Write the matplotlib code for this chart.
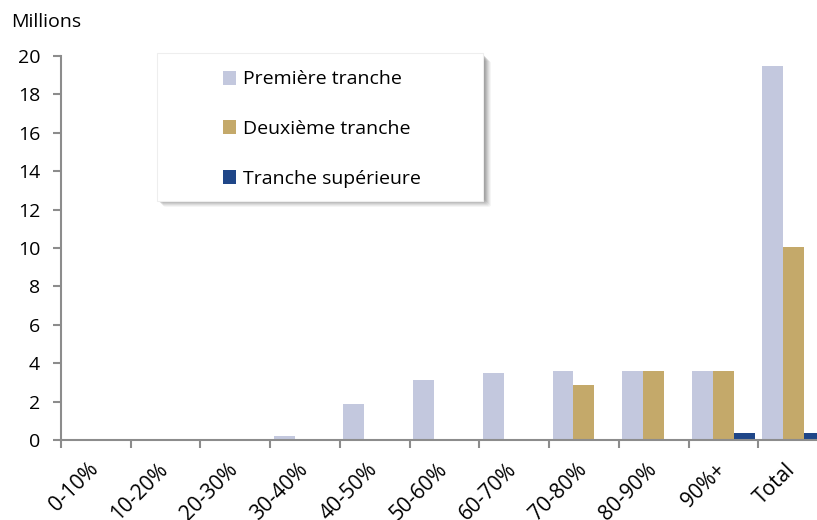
import numpy as np
import matplotlib.pyplot as plt
import matplotlib.transforms as mtransforms
from matplotlib.patches import Patch, FancyBboxPatch

plt.rcParams['font.family'] = ['Open Sans', 'DejaVu Sans']

categories = ["0-10%", "10-20%", "20-30%", "30-40%", "40-50%", "50-60%",
              "60-70%", "70-80%", "80-90%", "90%+", "Total"]
premiere = [0.0, 0.0, 0.0, 0.2, 1.85, 3.15, 3.5, 3.58, 3.6, 3.6, 19.5]
deuxieme = [0.0, 0.0, 0.0, 0.0, 0.0, 0.0, 0.0, 2.85, 3.6, 3.6, 10.05]
superieure = [0.0, 0.0, 0.0, 0.0, 0.0, 0.0, 0.0, 0.0, 0.0, 0.36, 0.36]

series_names = ["Première tranche", "Deuxième tranche", "Tranche supérieure"]
colors = ["#C3C8DE", "#C4A96A", "#1F4688"]

FS = 14
W, H = 817, 520
fig = plt.figure(figsize=(W / 100, H / 100), dpi=100)
# axis runs past the right edge, as in the original crop
ax = fig.add_axes([61 / W, 80 / H, 767 / W, 384 / H])

x = np.arange(len(categories))
bw = 0.3
for i, (vals, col) in enumerate(zip([premiere, deuxieme, superieure], colors)):
    ax.bar(x + (i - 1) * bw, vals, width=bw, color=col, edgecolor="none")

ax.set_xlim(-0.5, len(categories) - 0.5)
ax.set_ylim(0, 20)
ax.set_yticks(np.arange(0, 21, 2))

# category labels: rotated, drawn as text so they can be nudged like the original
ax.set_xticks(x)
ax.set_xticklabels([])
lab_tr = ax.get_xaxis_transform() + mtransforms.ScaledTranslation(-0.08, -0.19, fig.dpi_scale_trans)
for xi, name in zip(x, categories):
    ax.text(xi, 0, name, transform=lab_tr, rotation=45, ha="right", va="top",
            rotation_mode="anchor", fontsize=15, clip_on=False)
ax.set_xticks(np.arange(-0.5, len(categories)), minor=True)
ax.tick_params(axis="x", which="major", length=0)
ax.tick_params(axis="x", which="minor", length=6, width=1.5, color="#8C8C8C")
ax.tick_params(axis="y", length=6, width=1.5, color="#8C8C8C", labelsize=FS, pad=9)

for s in ["top", "right"]:
    ax.spines[s].set_visible(False)
for s in ["left", "bottom"]:
    ax.spines[s].set_color("#8C8C8C")
    ax.spines[s].set_linewidth(1.5)

fig.text(11 / W, 1 - 22 / H, "Millions", fontsize=FS, va="center", ha="left")

# legend box with soft shadow
bx0, by0, bx1, by1 = 157 / W, 1 - 201 / H, 483 / W, 1 - 53 / H
for k, a in zip(range(7, 0, -1), [0.06, 0.08, 0.1, 0.12, 0.14, 0.16, 0.18]):
    sh = FancyBboxPatch((bx0 + (k - 1) / W, by0 - (k - 1) / H),
                        bx1 - bx0 + 2 / W, by1 - by0 - 2 / H,
                        boxstyle="round,pad=0,rounding_size=0.004",
                        transform=fig.transFigure, facecolor="#606060",
                        edgecolor="none", alpha=a, zorder=5)
    fig.patches.append(sh)
box = FancyBboxPatch((bx0, by0), bx1 - bx0, by1 - by0,
                     boxstyle="square,pad=0", transform=fig.transFigure,
                     facecolor="white", edgecolor="#EEEEEE", linewidth=0.8, zorder=6)
fig.patches.append(box)

handles = [Patch(facecolor=c, edgecolor="none") for c in colors]
leg = fig.legend(handles, series_names, loc="upper left",
                 bbox_to_anchor=(205 / W, 1 - 53 / H), frameon=False,
                 fontsize=FS, handlelength=0.7, handleheight=0.7,
                 handletextpad=0.35, labelspacing=1.62)
leg.set_zorder(7)

fig.savefig("out.png", dpi=100)
